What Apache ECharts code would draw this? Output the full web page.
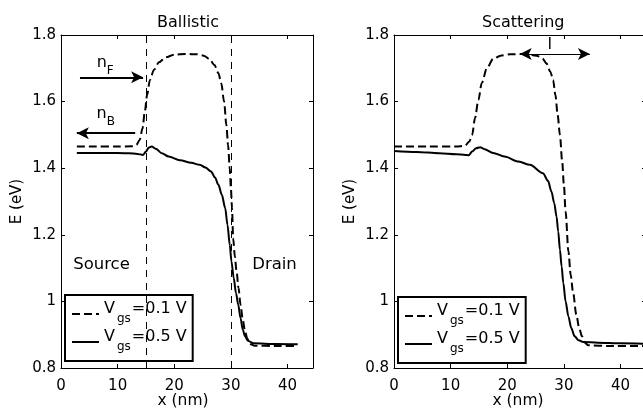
<!DOCTYPE html>
<html><head><meta charset="utf-8">
<script src="https://cdn.jsdelivr.net/npm/echarts@6/dist/echarts.min.js"></script>
<style>html,body{margin:0;padding:0;background:#fff}#c{width:643px;height:410px}</style>
</head><body><div id="c"></div>
<script>
// ---------- data ----------
const panelTitles = ['Ballistic', 'Scattering'];
const seriesNames = ['Vgs=0.1 V', 'Vgs=0.5 V'];
const X_MIN = 0, X_MAX = 44.5, X_STEP = 10;
const E_MIN = 0.8, E_MAX = 1.8, E_STEP = 0.2;

// Ballistic, Vgs = 0.1 V (dashed)
const ballistic01 = [[2.8,1.465],[6,1.465],[10,1.465],[12.5,1.466],[13.3,1.47],[13.9,1.485],[14.4,1.52],[14.8,1.57],[15.2,1.62],[15.7,1.665],[16.4,1.695],[17.3,1.718],[18.5,1.733],[20,1.741],[22,1.743],[24,1.742],[25.2,1.738],[26.2,1.728],[27.1,1.71],[27.8,1.685],[28.3,1.655],[28.8,1.6],[29.2,1.53],[29.5,1.47],[29.8,1.40],[30.0,1.34],[30.2,1.28],[30.4,1.19],[30.7,1.135],[31.0,1.09],[31.35,1.04],[31.7,0.99],[32.1,0.945],[32.5,0.91],[32.9,0.888],[33.4,0.872],[34.2,0.867],[38,0.866],[41.8,0.866]];
// Ballistic, Vgs = 0.5 V (solid)
const ballistic05 = [[2.8,1.446],[8,1.446],[12,1.445],[13.5,1.443],[14.5,1.44],[15.0,1.45],[15.5,1.462],[16.0,1.465],[16.8,1.458],[17.8,1.445],[19,1.435],[21,1.424],[23,1.416],[24.5,1.41],[25.5,1.402],[26.5,1.39],[27.2,1.372],[27.8,1.35],[28.4,1.32],[29.0,1.28],[29.4,1.23],[29.8,1.17],[30.1,1.12],[30.5,1.07],[30.9,1.025],[31.3,0.99],[31.7,0.95],[32.1,0.915],[32.5,0.895],[33.0,0.882],[34,0.874],[38,0.872],[41.8,0.871]];
// Scattering, Vgs = 0.1 V (dashed)
const scattering01 = [[0,1.465],[6,1.465],[11,1.465],[12.5,1.467],[13.3,1.48],[13.8,1.50],[14.3,1.55],[14.9,1.605],[15.5,1.656],[16.4,1.70],[17.5,1.728],[18.8,1.738],[20.5,1.742],[23,1.743],[25.2,1.738],[26.2,1.73],[26.9,1.715],[27.6,1.69],[28.1,1.665],[28.5,1.62],[28.9,1.56],[29.3,1.50],[29.7,1.42],[30.0,1.35],[30.3,1.27],[30.8,1.15],[31.2,1.08],[31.6,1.03],[32.2,0.96],[32.7,0.92],[33.2,0.895],[33.7,0.876],[34.3,0.868],[38,0.866],[44.5,0.866]];
// Scattering, Vgs = 0.5 V (solid)
const scattering05 = [[0,1.452],[4,1.449],[8,1.445],[11,1.442],[12.6,1.44],[13.2,1.439],[13.8,1.45],[14.5,1.46],[15.2,1.463],[16,1.457],[17.5,1.446],[19.5,1.435],[22,1.42],[24,1.41],[26.3,1.385],[27.2,1.362],[27.8,1.33],[28.3,1.295],[28.7,1.255],[29.0,1.21],[29.3,1.155],[29.6,1.105],[29.9,1.055],[30.3,1.0],[30.8,0.955],[31.3,0.92],[31.9,0.895],[32.6,0.883],[33.4,0.878],[36,0.876],[40,0.874],[44.5,0.873]];

const dividerX = [15, 30];
const nFArrow = [[3.35,1.673],[14.5,1.673]];
const nBArrow = [[13.1,1.505],[2.8,1.505]];
const pathArrow = [[22.2,1.743],[34.6,1.743]];
const nFLabel = [7.8,1.7055];
const nBLabel = [7.9,1.551];
const sourceLabel = [7.15,1.11];
const drainLabel = [37.7,1.11];
const lLabel = [27.5,1.77];

// ---------- styling ----------
const FONT = '"DejaVu Sans", sans-serif';
const BLACK = '#000';
const DASH = [8,4];

function makeX(gridIndex, position, withLabels, namePad) {
  return {
    type:'value', gridIndex, position, min:X_MIN, max:X_MAX, interval:X_STEP,
    axisLine:{show:true, onZero:false, lineStyle:{color:BLACK,width:1}},
    axisTick:{show:true, inside:true, length:4, lineStyle:{color:BLACK,width:1}},
    axisLabel:{show:withLabels, color:BLACK, fontSize:15, fontFamily:FONT, margin:11, showMaxLabel:false},
    splitLine:{show:false},
    name: withLabels ? 'x (nm)' : '', nameLocation:'middle', nameGap:25, nameMoveOverlap:false,
    nameTextStyle:{color:BLACK, fontSize:15.5, fontFamily:FONT, padding:namePad}
  };
}
function makeY(gridIndex, position, withLabels) {
  return {
    type:'value', gridIndex, position, min:E_MIN, max:E_MAX, interval:E_STEP,
    axisLine:{show:true, onZero:false, lineStyle:{color:BLACK,width:1}},
    axisTick:{show:true, inside:true, length:4, lineStyle:{color:BLACK,width:1}},
    axisLabel:{show:withLabels, color:BLACK, fontSize:15, fontFamily:FONT, margin:5},
    splitLine:{show:false},
    name: withLabels ? 'E (eV)' : '', nameLocation:'middle', nameGap:36, nameMoveOverlap:false,
    nameTextStyle:{color:BLACK, fontSize:15, fontFamily:FONT}
  };
}
const subRich = {
  v:{fontSize:16, fontFamily:FONT, color:BLACK, padding:[0,0,10,0]},
  s:{fontSize:12, fontFamily:FONT, color:BLACK, padding:[10,1,0,2]},
  n:{fontSize:16, fontFamily:FONT, color:BLACK, padding:[0,0,8,0]},
  f:{fontSize:12, fontFamily:FONT, color:BLACK, padding:[8,0,0,0]},
  t:{fontSize:16.5, fontFamily:FONT, color:BLACK}
};
function legendFmt(name) {
  const m = name.match(/^V(gs)(.*)$/);
  return '{v|V}{s|' + m[1] + '}{v|' + m[2] + '}';
}
function makeLegend(left, top) {
  return {
    left, top, orient:'vertical', data:seriesNames, itemWidth:27, itemHeight:14, itemGap:4,
    padding:[6,6,8,6], borderColor:BLACK, borderWidth:2, borderRadius:0, backgroundColor:'#fff',
    selectedMode:false, formatter:legendFmt,
    itemStyle:{color:'rgba(0,0,0,0)', borderColor:'rgba(0,0,0,0)', borderWidth:0},
    textStyle:{color:BLACK, rich:subRich}
  };
}
function textPoint(coord, text) {
  return {coord, label:{formatter:text}};
}
function arrowLine(pts, startSym, endSym, width) {
  return [
    {coord:pts[0], symbol:startSym, symbolSize:[9,12], lineStyle:{type:'solid', width, color:BLACK}},
    {coord:pts[1], symbol:endSym, symbolSize:[9,12]}
  ];
}
const markPointBase = {
  symbol:'circle', symbolSize:0, silent:true, itemStyle:{color:'rgba(0,0,0,0)'},
  label:{show:true, position:'inside', color:BLACK, rich:subRich}
};

const series = [
  {type:'line', name:seriesNames[0], xAxisIndex:0, yAxisIndex:0, data:ballistic01,
   symbol:'none', smooth:0.3, smoothMonotone:'x', lineStyle:{color:BLACK,width:2,type:DASH}, itemStyle:{color:BLACK},
   markLine:{silent:true, symbol:['none','none'], label:{show:false},
     lineStyle:{color:BLACK, width:1, type:[7,6]},
     data:[
       ...dividerX.map(x => ({xAxis:x})),
       arrowLine(nFArrow,'none','arrow',2),
       arrowLine(nBArrow,'none','arrow',2)
     ]},
   markPoint:Object.assign({}, markPointBase, {data:[
     textPoint(nFLabel,'{n|n}{f|F}'),
     textPoint(nBLabel,'{n|n}{f|B}'),
     textPoint(sourceLabel,'{t|Source}'),
     textPoint(drainLabel,'{t|Drain}')
   ]})},
  {type:'line', name:seriesNames[1], xAxisIndex:0, yAxisIndex:0, data:ballistic05,
   symbol:'none', smooth:0.3, smoothMonotone:'x', lineStyle:{color:BLACK,width:2,type:'solid'}, itemStyle:{color:BLACK}},
  {type:'line', name:seriesNames[0], xAxisIndex:2, yAxisIndex:2, data:scattering01,
   symbol:'none', smooth:0.3, smoothMonotone:'x', lineStyle:{color:BLACK,width:2,type:DASH}, itemStyle:{color:BLACK},
   markLine:{silent:true, symbol:['none','none'], label:{show:false},
     data:[arrowLine(pathArrow,'arrow','arrow',1)]},
   markPoint:Object.assign({}, markPointBase, {data:[textPoint(lLabel,'{t|l}')]})},
  {type:'line', name:seriesNames[1], xAxisIndex:2, yAxisIndex:2, data:scattering05,
   symbol:'none', smooth:0.3, smoothMonotone:'x', lineStyle:{color:BLACK,width:2,type:'solid'}, itemStyle:{color:BLACK}}
];

const option = {
  backgroundColor:'#fff',
  animation:false,
  textStyle:{fontFamily:FONT},
  title:[
    {text:panelTitles[0], left:152, top:10, textStyle:{fontSize:16, fontWeight:'normal', color:BLACK, fontFamily:FONT}},
    {text:panelTitles[1], left:477, top:10, textStyle:{fontSize:16, fontWeight:'normal', color:BLACK, fontFamily:FONT}}
  ],
  grid:[
    {left:61, top:35, width:252, height:333, containLabel:false, outerBoundsMode:'none'},
    {left:394, top:35, width:252, height:333, containLabel:false, outerBoundsMode:'none'}
  ],
  xAxis:[makeX(0,'bottom',true,[0,8,0,0]), makeX(0,'top',false), makeX(1,'bottom',true,[0,4,0,0]), makeX(1,'top',false)],
  yAxis:[makeY(0,'left',true), makeY(0,'right',false), makeY(1,'left',true), makeY(1,'right',false)],
  legend:[makeLegend(65,295), makeLegend(398,297)],
  series
};
const chart = echarts.init(document.getElementById('c'), null, {renderer:'canvas'});
chart.setOption(option);
</script></body></html>
